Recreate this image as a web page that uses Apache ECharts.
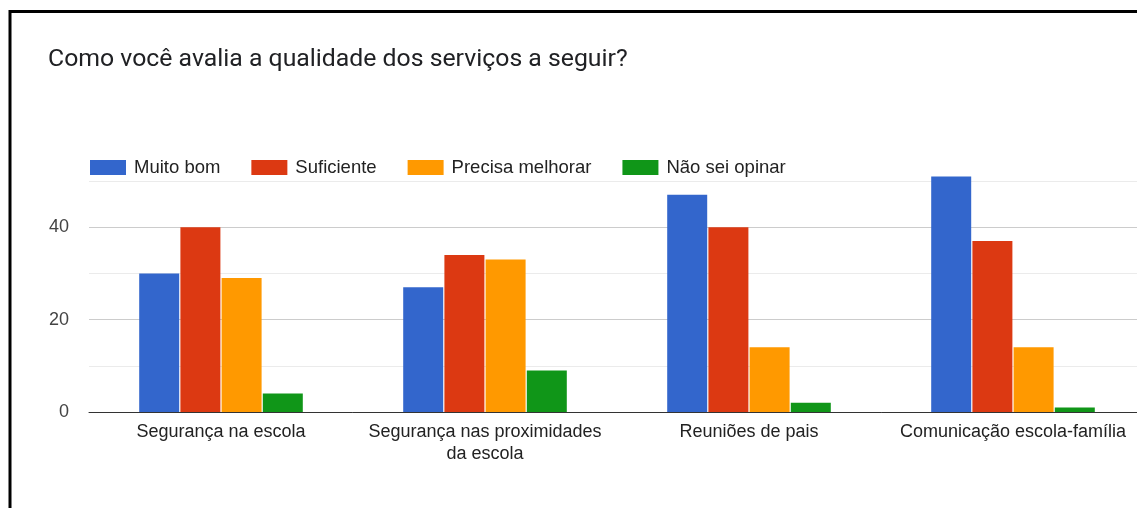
<!DOCTYPE html>
<html>
<head>
<meta charset="utf-8">
<script src="https://cdn.jsdelivr.net/npm/echarts@6/dist/echarts.min.js"></script>
<style>
  html, body { margin: 0; padding: 0; background: #fff; overflow: hidden; }
  /* chart canvas is a little wider than the window so the last group sits near the edge */
  #chart { width: 1145px; height: 508px; }
</style>
</head>
<body>
<div id="chart"></div>
<script>
// Survey answers per service, grouped by rating
const categories = [
  'Segurança na escola',
  'Segurança nas proximidades\nda escola',
  'Reuniões de pais',
  'Comunicação escola-família'
];
const seriesNames = ['Muito bom', 'Suficiente', 'Precisa melhorar', 'Não sei opinar'];
const muitoBom = [30, 27, 47, 51];
const suficiente = [40, 34, 40, 37];
const precisaMelhorar = [29, 33, 14, 14];
const naoSeiOpinar = [4, 9, 2, 1];
const yTicks = [0, 20, 40];

const colors = ['#3366cc', '#dc3912', '#ff9900', '#109618'];
const values = [muitoBom, suficiente, precisaMelhorar, naoSeiOpinar];
const labelFont = '"Liberation Sans", Arial, sans-serif';

const chart = echarts.init(document.getElementById('chart'), null, { renderer: 'canvas' });

chart.setOption({
  animation: false,
  color: colors,
  title: {
    text: 'Como você avalia a qualidade dos serviços a seguir?',
    left: 48,
    top: 45,
    padding: 0,
    textStyle: {
      fontFamily: 'Roboto, sans-serif',
      fontSize: 24.8,
      fontWeight: 'normal',
      color: '#202124',
      lineHeight: 30
    }
  },
  legend: {
    left: 90,
    top: 158,
    padding: 0,
    icon: 'rect',
    itemWidth: 36,
    itemHeight: 15,
    itemGap: 31,
    data: seriesNames,
    textStyle: { fontFamily: labelFont, fontSize: 18.5, color: '#222', padding: [0, 0, 0, 3] }
  },
  grid: { left: 89, right: 0, top: 181, bottom: 96, containLabel: false },
  xAxis: {
    type: 'category',
    data: categories,
    axisTick: { show: false },
    axisLine: { show: true, lineStyle: { color: '#333', width: 1 } },
    axisLabel: {
      interval: 0,
      margin: 9,
      fontFamily: labelFont,
      fontSize: 18,
      lineHeight: 22,
      color: '#222'
    }
  },
  yAxis: {
    type: 'value',
    min: 0,
    max: 50,
    interval: 10,
    axisLine: { show: false },
    axisTick: { show: false },
    splitLine: { lineStyle: { color: ['#cccccc', '#ebebeb'], width: 1 } },
    axisLabel: {
      margin: 20,
      fontFamily: labelFont,
      fontSize: 18,
      color: '#444',
      formatter: v => (yTicks.indexOf(v) >= 0 ? String(v) : '')
    }
  },
  series: seriesNames.map((name, i) => ({
    name: name,
    type: 'bar',
    data: values[i],
    barWidth: 40,
    barGap: '3%',
    clip: false,
    itemStyle: { color: colors[i] }
  })),
  graphic: [{
    type: 'rect',
    silent: true,
    z: 100,
    shape: { x: 10, y: 11.5, width: 1300, height: 700 },
    style: { fill: 'none', stroke: '#000', lineWidth: 3 }
  }]
});
</script>
</body>
</html>
